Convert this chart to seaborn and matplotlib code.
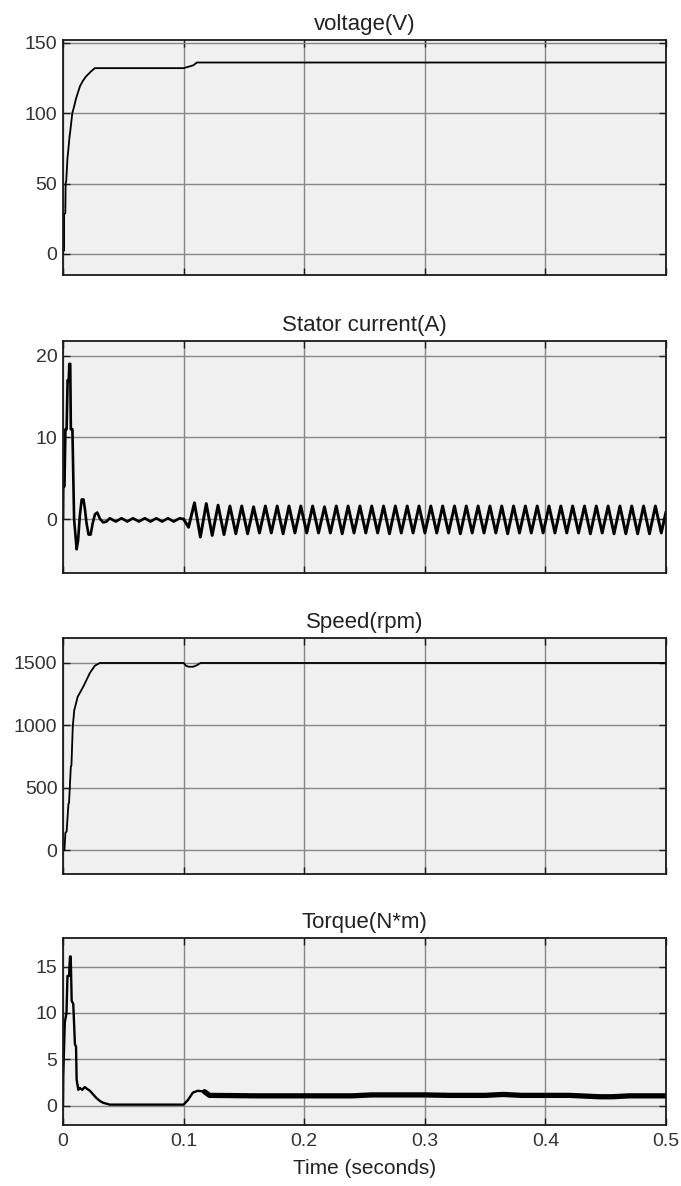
import numpy as np
import pandas as pd
import matplotlib
matplotlib.use("Agg")
import matplotlib.pyplot as plt
import seaborn as sns

# ---------------- data ----------------
titles = ["voltage(V)", "Stator current(A)", "Speed(rpm)", "Torque(N*m)"]
x_ticks = [0, 0.1, 0.2, 0.3, 0.4, 0.5]
x_tick_labels = ["0", "0.1", "0.2", "0.3", "0.4", "0.5"]
volt_yticks = [0, 50, 100, 150]
cur_yticks = [0, 10, 20]
spd_yticks = [0, 500, 1000, 1500]
trq_yticks = [0, 5, 10, 15]

volt_t = [0, 0.0002, 0.0005, 0.0008, 0.0019, 0.0022, 0.0027, 0.0037, 0.0042, 0.0055, 0.0060,
          0.0077, 0.0090, 0.0107, 0.0125, 0.0140, 0.0165, 0.0190, 0.0230, 0.0264, 0.1000,
          0.1040, 0.1080, 0.1110, 0.5000]
volt_v = [0, 28, 2, 28, 29, 50, 52, 68, 72, 84, 87,
          100, 104, 110, 115, 119, 123, 126, 129.5, 132, 132,
          133, 134, 136, 136]

cur_t = [0, 0.0002, 0.0012, 0.0020, 0.0030, 0.0038, 0.0048, 0.0052, 0.0060, 0.0065, 0.0078,
         0.0092, 0.0113, 0.0125, 0.0140, 0.0155, 0.0170, 0.0182, 0.0195, 0.0212, 0.0229,
         0.0245, 0.0265, 0.0284, 0.0308, 0.0333, 0.0360, 0.0388, 0.0437, 0.0485, 0.0533,
         0.0580, 0.0629, 0.0678, 0.0726, 0.0774, 0.0822, 0.0870, 0.0918, 0.0967, 0.1000]
cur_v = [0, 4, 4, 11, 11, 17, 17, 19, 19, 11, 11,
         0, -3.7, -2.6, 0.5, 2.4, 2.4, 1.2, -0.5, -1.9, -1.9,
         -0.6, 0.6, 0.8, 0.0, -0.4, -0.3, 0.1, -0.3, 0.1, -0.3,
         0.1, -0.3, 0.1, -0.3, 0.1, -0.3, 0.1, -0.3, 0.1, 0.0]

cur_osc_t = [0.1000, 0.1041, 0.1090, 0.1139, 0.1188, 0.1237, 0.1286, 0.1335, 0.1384, 0.1433,
             0.1482, 0.1531, 0.1580, 0.1629, 0.1678, 0.1727, 0.1776, 0.1825, 0.1874, 0.1923,
             0.1972, 0.2021, 0.2070, 0.2119, 0.2168, 0.2217, 0.2266, 0.2315, 0.2364, 0.2413,
             0.2462, 0.2511, 0.2560, 0.2609, 0.2658, 0.2707, 0.2756, 0.2805, 0.2854, 0.2903,
             0.2952, 0.3001, 0.3050, 0.3099, 0.3148, 0.3197, 0.3246, 0.3295, 0.3344, 0.3393,
             0.3442, 0.3491, 0.3540, 0.3589, 0.3638, 0.3687, 0.3736, 0.3785, 0.3834, 0.3883,
             0.3932, 0.3981, 0.4030, 0.4079, 0.4128, 0.4177, 0.4226, 0.4275, 0.4324, 0.4373,
             0.4422, 0.4471, 0.4520, 0.4569, 0.4618, 0.4667, 0.4716, 0.4765, 0.4814, 0.4863,
             0.4912, 0.4961, 0.5000]
cur_osc_v = [0.0, -1.0, 2.0, -2.2, 1.9, -2.0, 1.7, -1.9, 1.6, -1.8,
             1.6, -1.8, 1.5, -1.7, 1.6, -1.7, 1.6, -1.8, 1.6, -1.7,
             1.6, -1.7, 1.6, -1.7, 1.5, -1.7, 1.6, -1.8, 1.6, -1.7,
             1.6, -1.7, 1.6, -1.7, 1.6, -1.8, 1.6, -1.7, 1.6, -1.7,
             1.6, -1.7, 1.6, -1.7, 1.6, -1.7, 1.6, -1.8, 1.6, -1.7,
             1.6, -1.7, 1.6, -1.7, 1.6, -1.8, 1.6, -1.7, 1.6, -1.7,
             1.6, -1.7, 1.6, -1.7, 1.6, -1.7, 1.6, -1.7, 1.6, -1.8,
             1.6, -1.7, 1.6, -1.8, 1.6, -1.8, 1.6, -1.8, 1.6, -1.8,
             1.6, -1.7, 0.9]

spd_t = [0, 0.0012, 0.0020, 0.0030, 0.0045, 0.0050, 0.0065, 0.0070, 0.0081, 0.0093, 0.0122,
         0.0168, 0.0223, 0.0264, 0.0305, 0.1000, 0.1020, 0.1040, 0.1080, 0.1110, 0.1140, 0.5000]
spd_v = [0, 0, 140, 150, 370, 380, 670, 680, 990, 1120, 1230,
         1310, 1420, 1478, 1500, 1500, 1478, 1470, 1470, 1482, 1500, 1500]

trq_t = [0, 0.0002, 0.0015, 0.0029, 0.0037, 0.0050, 0.0058, 0.0064, 0.0072, 0.0085, 0.0099,
         0.0108, 0.0113, 0.0127, 0.0140, 0.0160, 0.0180, 0.0200, 0.0223, 0.0250, 0.0278,
         0.0305, 0.0333, 0.0388, 0.1000, 0.1036, 0.1077, 0.1118, 0.1173, 0.1215]
trq_v = [0, 3.2, 9.0, 10.0, 14.0, 14.0, 16.1, 16.1, 11.3, 11.0, 6.6,
         6.4, 2.8, 1.7, 1.9, 1.7, 2.0, 1.8, 1.6, 1.2, 0.8,
         0.5, 0.3, 0.1, 0.1, 0.6, 1.4, 1.6, 1.5, 1.15]

trq_band_t = [0.1173, 0.1215, 0.1600, 0.2000, 0.2400, 0.2560, 0.2700, 0.3000, 0.3200, 0.3500,
              0.3650, 0.3800, 0.4200, 0.4450, 0.4550, 0.4700, 0.5000]
trq_band_v = [1.5, 1.1, 1.05, 1.05, 1.05, 1.15, 1.15, 1.15, 1.1, 1.1,
              1.2, 1.1, 1.1, 0.95, 0.95, 1.05, 1.05]

# ---------------- styling ----------------
sns.set_theme(style="ticks")
plt.rcParams["font.family"] = ["Liberation Sans", "DejaVu Sans"]
plt.rcParams["axes.linewidth"] = 1.3

W, H = 681, 1186
fig = plt.figure(figsize=(W / 100, H / 100), dpi=100)

left = 63 / W
width = 603 / W
boxes = [(40, 275), (341, 573), (638, 874), (938, 1125)]
ylims = [(-15, 152), (-6.6, 21.8), (-190, 1700), (-2.1, 18.1)]
yticks_all = [volt_yticks, cur_yticks, spd_yticks, trq_yticks]

series = [
    [(volt_t, volt_v, 1.3)],
    [(cur_t, cur_v, 1.9), (cur_osc_t, cur_osc_v, 2.1)],
    [(spd_t, spd_v, 1.3)],
    [(trq_t, trq_v, 1.7), (trq_band_t, trq_band_v, 3.8)],
]

for i, ((top, bot), title) in enumerate(zip(boxes, titles)):
    ax = fig.add_axes([left, 1 - bot / H, width, (bot - top) / H])
    ax.set_facecolor("#f0f0f0")
    for (t, v, lw) in series[i]:
        df = pd.DataFrame({"t": t, "v": v})
        sns.lineplot(data=df, x="t", y="v", ax=ax, color="black", lw=lw,
                     estimator=None, sort=False, legend=False)
    ax.set_xlim(0, 0.5)
    ax.set_ylim(*ylims[i])
    ax.set_yticks(yticks_all[i])
    ax.set_yticklabels([str(v) for v in yticks_all[i]])
    ax.set_xticks(x_ticks)
    ax.grid(True, color="#878787", lw=1.0)
    ax.set_axisbelow(True)
    for sp in ax.spines.values():
        sp.set_color("#1a1a1a")
        sp.set_linewidth(1.3)
    ax.tick_params(direction="in", length=5, width=1, top=True, right=True,
                   colors="#1a1a1a", labelcolor="#333333", labelsize=14, pad=4)
    ax.set_ylabel("")
    ax.set_title(title, fontsize=16, pad=7, color="#222222")
    if i < 3:
        ax.set_xticklabels([])
        ax.set_xlabel("")
    else:
        ax.set_xticklabels(x_tick_labels)
        ax.tick_params(axis="x", pad=6)
        ax.set_xlabel("Time (seconds)", fontsize=15, color="#222222", labelpad=6)

fig.savefig("out.png", dpi=100)
